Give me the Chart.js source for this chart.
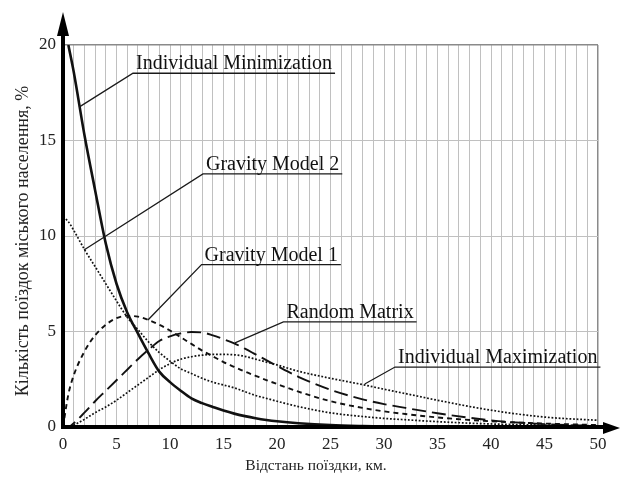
<!DOCTYPE html>
<html>
<head>
<meta charset="utf-8">
<script src="https://cdn.jsdelivr.net/npm/chart.js@4.4.1/dist/chart.umd.min.js"></script>
<style>
  html, body { margin: 0; padding: 0; background: #fff; }
  canvas { display: block; }
</style>
</head>
<body>
<canvas id="tripChart" width="620" height="481"></canvas>
<script>
// Trip distance, km
const distances = [0, 0.5, 1, 2, 3, 4, 5, 6, 7, 8, 9, 10, 11, 12, 13, 14, 15, 16, 17, 18, 19, 20,
                   22, 25, 28, 30, 32, 35, 40, 45, 50];

// Share of urban trips, %
const individualMinimization = [null, 20, 18.6, 15.3, 12.4, 9.6, 7.5, 6.0, 4.9, 3.85, 2.9, 2.35, 1.9, 1.5, 1.25, 1.05, 0.86, 0.7, 0.57, 0.46, 0.37, 0.3,
                                0.2, 0.1, 0.05, 0.03, 0.02, 0.01, 0, 0, 0];
const gravityModel2 = [11.0, 10.75, 10.3, 9.3, 8.4, 7.5, 6.6, 5.75, 5.1, 4.45, 3.9, 3.45, 3.05, 2.8, 2.55, 2.35, 2.2, 2.05, 1.85, 1.65, 1.5, 1.35,
                       1.07, 0.74, 0.55, 0.45, 0.38, 0.28, 0.16, 0.1, 0.06];
const gravityModel1 = [0, 1.7, 2.7, 3.95, 4.8, 5.35, 5.7, 5.82, 5.78, 5.6, 5.35, 5.05, 4.7, 4.35, 4.0, 3.7, 3.4, 3.15, 2.9, 2.68, 2.46, 2.25,
                       1.85, 1.35, 1.0, 0.82, 0.68, 0.5, 0.3, 0.18, 0.1];
const randomMatrix = [0, 0, 0.2, 0.75, 1.35, 1.9, 2.45, 3.0, 3.55, 4.05, 4.5, 4.75, 4.9, 4.97, 4.95, 4.8, 4.6, 4.38, 4.1, 3.8, 3.5, 3.2,
                      2.63, 1.95, 1.45, 1.2, 1.0, 0.72, 0.35, 0.15, 0.06];
const individualMaximization = [0, 0, 0.1, 0.4, 0.75, 1.05, 1.4, 1.8, 2.2, 2.6, 3.0, 3.32, 3.55, 3.68, 3.76, 3.8, 3.8, 3.78, 3.7, 3.55, 3.4, 3.25,
                                2.92, 2.55, 2.22, 1.98, 1.75, 1.4, 0.88, 0.52, 0.35];

const xTitle = 'Відстань поїздки, км.';
const yTitle = 'Кількість поїздок міського населення, %';

// Callout labels: underline start (km, %) and the point on the curve it points to
const callouts = [
    { text: 'Individual Minimization', x: 6.54, y: 18.52, tipX: 1.5, tipY: 16.75 },
    { text: 'Gravity Model 2', x: 13.08, y: 13.25, tipX: 1.96, tipY: 9.27 },
    { text: 'Gravity Model 1', x: 12.95, y: 8.5, tipX: 7.94, tipY: 5.6 },
    { text: 'Random Matrix', x: 20.6, y: 5.5, tipX: 16.07, tipY: 4.4 },
    { text: 'Individual Maximization', x: 31.03, y: 3.14, tipX: 28.2, tipY: 2.25 },
];

const serif = "'Liberation Serif', 'Times New Roman', serif";

const toPoints = values => distances.map((d, i) => ({ x: d, y: values[i] }));

const makeLine = (label, values, width, dash) => ({
    label: label,
    data: toPoints(values),
    borderColor: '#111',
    borderWidth: width,
    borderDash: dash,
    pointRadius: 0,
    fill: false,
    cubicInterpolationMode: 'monotone',
});

// Axes with arrows, axis titles and the callouts
const decorPlugin = {
    id: 'decor',
    afterDatasetsDraw(chart) {
        const { ctx, chartArea, scales } = chart;
        const left = chartArea.left;
        const bottom = chartArea.bottom;
        ctx.save();

        // callouts
        ctx.font = '20px ' + serif;
        ctx.fillStyle = '#111';
        ctx.strokeStyle = '#1a1a1a';
        ctx.lineWidth = 1.3;
        ctx.setLineDash([]);
        callouts.forEach(c => {
            const lx = scales.x.getPixelForValue(c.x);
            const ly = scales.y.getPixelForValue(c.y);
            const tx = scales.x.getPixelForValue(c.tipX);
            const ty = scales.y.getPixelForValue(c.tipY);
            const w = ctx.measureText(c.text).width;
            ctx.textAlign = 'left';
            ctx.textBaseline = 'alphabetic';
            ctx.fillText(c.text, lx + 3, ly - 4);
            ctx.beginPath();
            ctx.moveTo(tx, ty);
            ctx.lineTo(lx, ly);
            ctx.lineTo(lx + w + 6, ly);
            ctx.stroke();
        });

        // axes
        ctx.fillStyle = '#000';
        ctx.strokeStyle = '#000';
        ctx.lineWidth = 4;
        ctx.beginPath();
        ctx.moveTo(left, bottom + 2);
        ctx.lineTo(left, 30);
        ctx.moveTo(left - 2, bottom);
        ctx.lineTo(606, bottom);
        ctx.stroke();

        ctx.beginPath();
        ctx.moveTo(left, 12);
        ctx.lineTo(left - 6, 36);
        ctx.lineTo(left + 6, 36);
        ctx.closePath();
        ctx.fill();

        ctx.beginPath();
        ctx.moveTo(620, bottom + 1);
        ctx.lineTo(603, bottom - 5);
        ctx.lineTo(603, bottom + 7);
        ctx.closePath();
        ctx.fill();

        // axis titles
        ctx.fillStyle = '#222';
        ctx.textAlign = 'center';
        ctx.textBaseline = 'middle';
        ctx.font = '15.5px ' + serif;
        ctx.fillText(xTitle, 316, 466);
        ctx.font = '18px ' + serif;
        ctx.translate(23, 241);
        ctx.rotate(-Math.PI / 2);
        ctx.fillText(yTitle, 0, 0);
        ctx.restore();
    }
};

const gridColor = (ctx, top) => {
    const v = ctx.tick.value;
    if (v === 0) return 'rgba(0,0,0,0)';
    if (v === top) return '#8a8a8a';
    return '#c0c0c0';
};

new Chart(document.getElementById('tripChart'), {
    type: 'line',
    data: {
        datasets: [
            makeLine('Individual Minimization', individualMinimization, 2.6, []),
            makeLine('Gravity Model 2', gravityModel2, 1.7, [1.8, 1.8]),
            makeLine('Gravity Model 1', gravityModel1, 1.9, [5, 4]),
            makeLine('Random Matrix', randomMatrix, 1.9, [14, 6]),
            makeLine('Individual Maximization', individualMaximization, 1.7, [1.8, 1.8]),
        ]
    },
    options: {
        responsive: false,
        devicePixelRatio: 1,
        animation: false,
        layout: {
            padding: { top: 45, right: 22, left: 0, bottom: 0 }
        },
        plugins: {
            legend: { display: false },
            tooltip: { enabled: false },
        },
        scales: {
            x: {
                type: 'linear',
                min: 0,
                max: 50,
                afterFit: scale => { scale.height = 54; },
                border: { display: false },
                grid: {
                    color: ctx => gridColor(ctx, 50),
                    lineWidth: ctx => (ctx.tick.value === 50 ? 1.5 : 1),
                    drawTicks: false,
                },
                ticks: {
                    stepSize: 1,
                    autoSkip: false,
                    maxRotation: 0,
                    padding: 7,
                    color: '#222',
                    font: { family: serif, size: 17 },
                    callback: v => (v % 5 === 0 ? v : ''),
                }
            },
            y: {
                min: 0,
                max: 20,
                afterFit: scale => { scale.width = 63; },
                border: { display: false },
                grid: {
                    color: ctx => gridColor(ctx, 20),
                    lineWidth: ctx => (ctx.tick.value === 20 ? 1.5 : 1),
                    drawTicks: false,
                },
                ticks: {
                    stepSize: 5,
                    padding: 7,
                    color: '#222',
                    font: { family: serif, size: 17 },
                }
            }
        }
    },
    plugins: [decorPlugin]
});
</script>
</body>
</html>
